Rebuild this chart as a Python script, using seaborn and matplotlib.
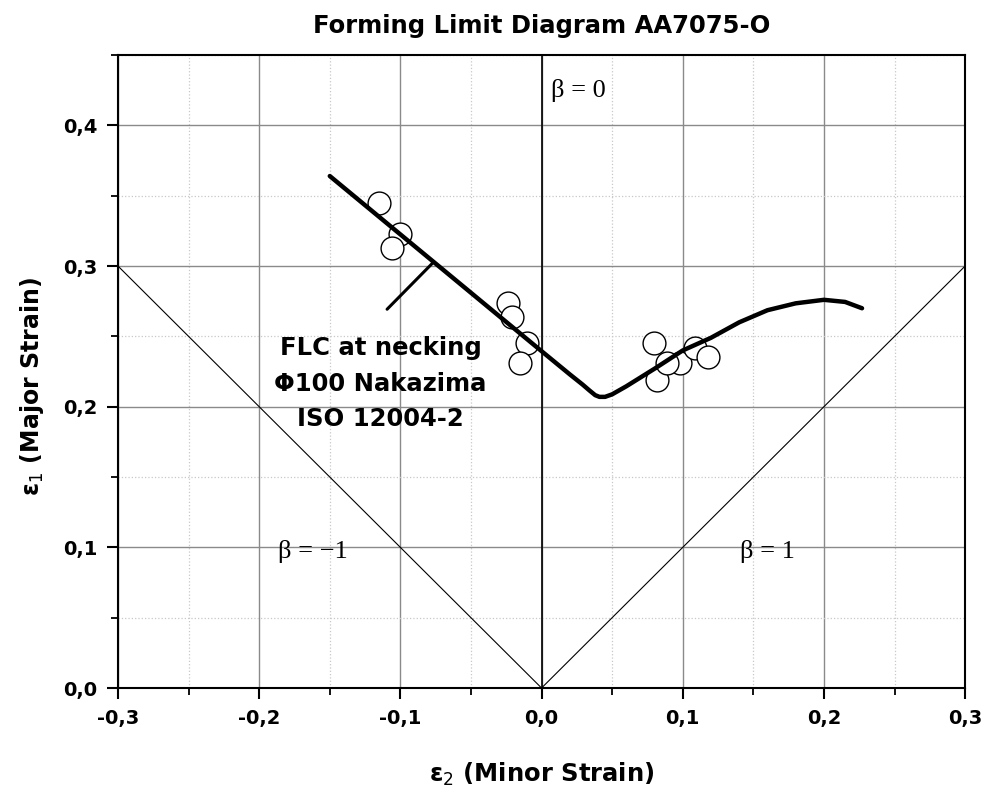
import numpy as np
import pandas as pd
import matplotlib
matplotlib.use("Agg")
import matplotlib.pyplot as plt
import seaborn as sns
from matplotlib.ticker import MultipleLocator, FuncFormatter

# --- data ---
exp_minor = [-0.115, -0.100, -0.106, -0.024, -0.021, -0.010, -0.015,
             0.080, 0.082, 0.098, 0.109, 0.118, 0.089]
exp_major = [0.345, 0.323, 0.313, 0.274, 0.264, 0.245, 0.231,
             0.245, 0.219, 0.231, 0.242, 0.235, 0.231]

flc_minor = [-0.150, -0.100, -0.050, 0.000, 0.020, 0.029, 0.034, 0.038, 0.041, 0.045,
             0.050, 0.060, 0.080, 0.100, 0.120, 0.140, 0.160, 0.180, 0.200, 0.215, 0.227]
flc_major = [0.364, 0.3225, 0.281, 0.2395, 0.223, 0.2158, 0.2115, 0.2082, 0.2070, 0.2070,
             0.2088, 0.2145, 0.2270, 0.2400, 0.2490, 0.2600, 0.2686, 0.2735, 0.2760, 0.2745, 0.2700]

beta_neg_x = [-0.3, 0.0]
beta_neg_y = [0.3, 0.0]
beta_pos_x = [0.0, 0.3]
beta_pos_y = [0.0, 0.3]

x_ticks = [-0.3, -0.2, -0.1, 0.0, 0.1, 0.2, 0.3]
y_ticks = [0.0, 0.1, 0.2, 0.3, 0.4]

sns.set_style("white")
plt.rcParams['font.family'] = ['DejaVu Sans']
plt.rcParams['text.color'] = 'black'
plt.rcParams['axes.labelcolor'] = 'black'
plt.rcParams['xtick.color'] = 'black'
plt.rcParams['ytick.color'] = 'black'

fig = plt.figure(figsize=(9.85, 8.10), dpi=100)
ax = fig.add_axes([0.1198, 0.1506, 0.86, 0.7814])

ax.set_xlim(-0.3, 0.3)
ax.set_ylim(0.0, 0.45)
ax.xaxis.set_minor_locator(MultipleLocator(0.05))
ax.yaxis.set_minor_locator(MultipleLocator(0.05))
ax.set_xticks(x_ticks)
ax.set_yticks(y_ticks)
fmt = FuncFormatter(lambda v, p: f"{v:.1f}".replace('.', ',').replace('-0,0', '0,0'))
ax.xaxis.set_major_formatter(fmt)
ax.yaxis.set_major_formatter(fmt)

ax.grid(which='major', color='#8a8a8a', linewidth=1.0, linestyle='-')
ax.grid(which='minor', color='#c8c8c8', linewidth=0.9, linestyle=':')
ax.set_axisbelow(True)

ax.tick_params(which='major', direction='out', length=8, width=1.5, labelsize=14,
               bottom=True, left=True, top=False, right=False, pad=7)
ax.tick_params(which='minor', direction='out', length=5, width=1.3,
               bottom=True, left=True, top=False, right=False)
for lab in ax.get_xticklabels() + ax.get_yticklabels():
    lab.set_fontweight('bold')
for s in ax.spines.values():
    s.set_color('black')
    s.set_linewidth(1.5)

# beta=0 line
ax.axvline(0.0, color='black', linewidth=1.2, zorder=1.5)
# beta = -1 and beta = 1 lines
sns.lineplot(x=beta_neg_x, y=beta_neg_y, ax=ax, color='black', linewidth=0.8, sort=False)
sns.lineplot(x=beta_pos_x, y=beta_pos_y, ax=ax, color='black', linewidth=0.8, sort=False)

# experimental points
sns.scatterplot(x=exp_minor, y=exp_major, ax=ax, marker='o', s=270,
                facecolor='white', edgecolor='black', linewidth=1.0, zorder=3)
# FLC curve
sns.lineplot(x=flc_minor, y=flc_major, ax=ax, color='black', linewidth=3.2,
             sort=False, zorder=4)

# pointer line to curve
ax.annotate('', xy=(-0.0768, 0.3025), xytext=(-0.1094, 0.2693),
            arrowprops=dict(arrowstyle='-', color='black', lw=2.2,
                            shrinkA=0, shrinkB=0), zorder=4)

for txt, yy in [('FLC at necking', 0.242), ('Φ100 Nakazima', 0.2165), ('ISO 12004-2', 0.191)]:
    ax.text(-0.114, yy, txt, ha='center', va='center', fontsize=17.5, fontweight='bold')

serif = ['Liberation Serif', 'DejaVu Serif']
ax.text(0.026, 0.425, 'β = 0', ha='center', va='center', fontsize=19, family=serif)
ax.text(-0.162, 0.097, 'β = −1', ha='center', va='center', fontsize=19, family=serif)
ax.text(0.160, 0.097, 'β = 1', ha='center', va='center', fontsize=19, family=serif)

ax.set_title('Forming Limit Diagram AA7075-O', fontsize=17.5, fontweight='bold', pad=16)
ax.set_xlabel('ε$_2$ (Minor Strain)', fontsize=17.5, fontweight='bold', labelpad=24)
ax.set_ylabel('ε$_1$ (Major Strain)', fontsize=17, fontweight='bold')
ax.yaxis.set_label_coords(-0.085, 0.477)

fig.savefig('out.png', dpi=100)
